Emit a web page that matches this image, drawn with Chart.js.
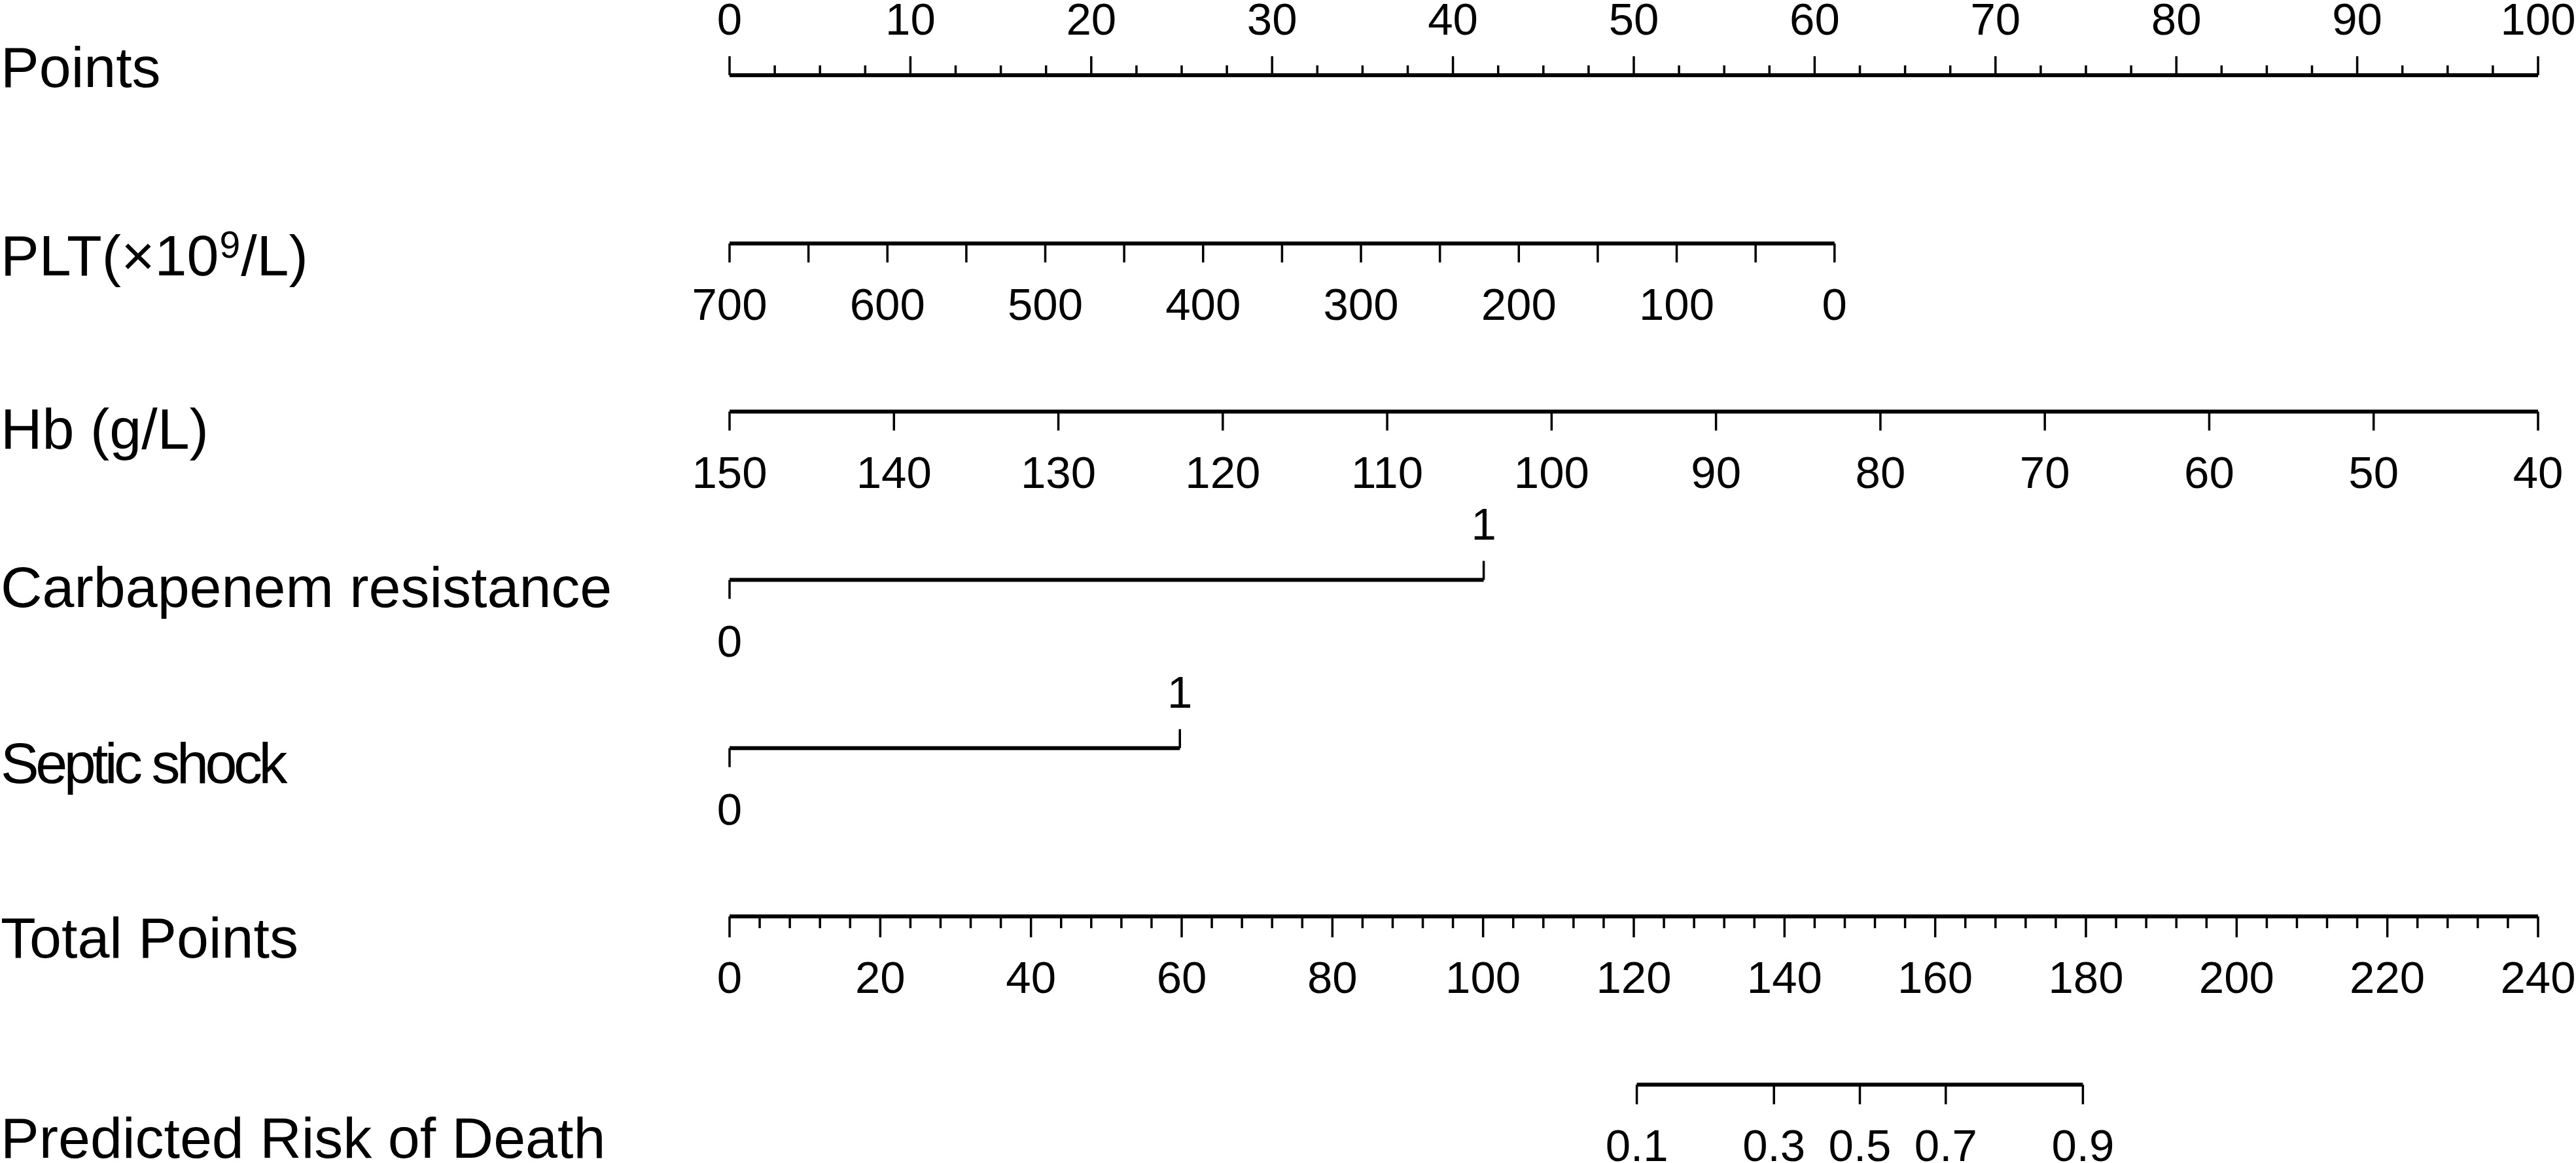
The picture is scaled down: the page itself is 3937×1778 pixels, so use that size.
<!DOCTYPE html>
<html>
<head>
<meta charset="utf-8">
<title>Nomogram</title>
<script src="https://cdn.jsdelivr.net/npm/chart.js@4.4.0/dist/chart.umd.min.js"></script>
<style>
  html, body { margin: 0; padding: 0; background: #fff; }
  #nomogram { display: block; }
</style>
</head>
<body>
<canvas id="nomogram" width="3937" height="1778"></canvas>
<script>
// values
const rowNames = ["Points", "PLT(×10⁹/L)", "Hb (g/L)", "Carbapenem resistance",
  "Septic shock", "Total Points", "Predicted Risk of Death"];

const pointLabels = [0, 10, 20, 30, 40, 50, 60, 70, 80, 90, 100];
const pointMinorStep = 2.5;

const pltLabels = [700, 600, 500, 400, 300, 200, 100, 0];
const pltTickStep = 50;
const pltEnds = [700, 0];
const pltEndPoints = [0, 61.1];

const hbLabels = [150, 140, 130, 120, 110, 100, 90, 80, 70, 60, 50, 40];
const hbEnds = [150, 40];
const hbEndPoints = [0, 100];

const carbLevels = ["0", "1"];
const carbPoints = [0, 41.7];

const shockLevels = ["0", "1"];
const shockPoints = [0, 24.9];

const totalLabels = [0, 20, 40, 60, 80, 100, 120, 140, 160, 180, 200, 220, 240];
const totalMinorStep = 4;

const riskLabels = ["0.1", "0.3", "0.5", "0.7", "0.9"];
const riskTotals = [120.4, 138.6, 150.0, 161.4, 179.6];
const riskMinorTotals = [131.3, 144.5, 155.5, 168.7];

// layout (pixels)
const W = 3937, H = 1778;
const yMin = -0.447, yMax = 6.466;
const rowPx = H / (yMax - yMin);
const nameBaseline = [18, 49, 57, 41, 53, 63, 112];
const nameSpacing = [0, 0, 0, 0, -5.5, 0, 0];
const labelBelow = 117, labelAbove = -62;
const majorLen = 29, minorLen = 15, tinyLen = 2;
const labelFont = '88px "Liberation Sans", Arial, sans-serif';
const supFont = '57px "Liberation Sans", Arial, sans-serif';
const tickFont = '69px "Liberation Sans", Arial, sans-serif';

function lin(v, ends, pts) {
  return pts[0] + (v - ends[0]) * (pts[1] - pts[0]) / (ends[1] - ends[0]);
}
const totalMax = totalLabels[totalLabels.length - 1];
function totalToPoints(t) { return t * 100 / totalMax; }

// each row: line extent, ticks (points, length px, +1 down / -1 up), labels
const rows = [];

// Points
(function () {
  const ticks = [];
  for (let v = 0; v <= 100 + 1e-9; v += pointMinorStep) {
    const major = Math.abs(v % 10) < 1e-9;
    ticks.push({ p: v, len: major ? majorLen : minorLen, dir: -1 });
  }
  rows.push({ from: 0, to: 100, ticks,
    labels: pointLabels.map(v => ({ p: v, text: String(v), above: true })) });
})();

// PLT
(function () {
  const ticks = [];
  for (let v = pltEnds[0]; v >= pltEnds[1]; v -= pltTickStep) {
    ticks.push({ p: lin(v, pltEnds, pltEndPoints), len: majorLen, dir: 1 });
  }
  rows.push({ from: pltEndPoints[0], to: pltEndPoints[1], ticks,
    labels: pltLabels.map(v => ({ p: lin(v, pltEnds, pltEndPoints), text: String(v), above: false })) });
})();

// Hb
rows.push({ from: hbEndPoints[0], to: hbEndPoints[1],
  ticks: hbLabels.map(v => ({ p: lin(v, hbEnds, hbEndPoints), len: majorLen, dir: 1 })),
  labels: hbLabels.map(v => ({ p: lin(v, hbEnds, hbEndPoints), text: String(v), above: false })) });

// Carbapenem resistance, Septic shock
[[carbLevels, carbPoints], [shockLevels, shockPoints]].forEach(([lev, pts]) => {
  rows.push({ from: pts[0], to: pts[1],
    ticks: [{ p: pts[0], len: majorLen, dir: 1 }, { p: pts[1], len: majorLen, dir: -1 }],
    labels: [{ p: pts[0], text: lev[0], above: false }, { p: pts[1], text: lev[1], above: true }] });
});

// Total Points
(function () {
  const ticks = [];
  for (let t = 0; t <= totalMax; t += totalMinorStep) {
    const major = t % 20 === 0;
    ticks.push({ p: totalToPoints(t), len: major ? majorLen + 3 : minorLen + 3, dir: 1 });
  }
  rows.push({ from: 0, to: 100, ticks,
    labels: totalLabels.map(t => ({ p: totalToPoints(t), text: String(t), above: false })) });
})();

// Predicted risk
(function () {
  const ticks = riskTotals.map(t => ({ p: totalToPoints(t), len: majorLen + 1, dir: 1 }))
    .concat(riskMinorTotals.map(t => ({ p: totalToPoints(t), len: tinyLen, dir: 1 })));
  rows.push({ from: totalToPoints(riskTotals[0]), to: totalToPoints(riskTotals[riskTotals.length - 1]), ticks,
    labels: riskLabels.map((s, i) => ({ p: totalToPoints(riskTotals[i]), text: s, above: false })) });
})();

// datasets: one for each axis line, one for each set of tick marks
const datasets = [];
rows.forEach((r, i) => {
  datasets.push({
    data: [{ x: r.from, y: i }, { x: r.to, y: i }],
    borderColor: '#000', borderWidth: 6, borderCapStyle: 'butt',
    pointRadius: 0, fill: false, clip: false
  });
  const tickData = [];
  r.ticks.forEach(t => {
    tickData.push({ x: t.p, y: i });
    tickData.push({ x: t.p, y: i + t.dir * t.len / rowPx });
    tickData.push({ x: t.p, y: null });
  });
  datasets.push({
    data: tickData,
    borderColor: '#000', borderWidth: 3.5, borderCapStyle: 'butt',
    pointRadius: 0, fill: false, clip: false, spanGaps: false
  });
});

const textPlugin = {
  id: 'nomoText',
  afterDatasetsDraw(chart) {
    const c = chart.ctx, xs = chart.scales.x, ys = chart.scales.y;
    c.save();
    c.fillStyle = '#000';
    c.textBaseline = 'alphabetic';

    // variable names on the left
    c.textAlign = 'left';
    rowNames.forEach((name, i) => {
      const y = ys.getPixelForValue(i) + nameBaseline[i];
      c.font = labelFont;
      c.letterSpacing = nameSpacing[i] + 'px';
      const parts = name.split('⁹');
      let x = 1;
      c.fillText(parts[0], x, y);
      if (parts.length > 1) {
        x += c.measureText(parts[0]).width;
        c.font = supFont;
        c.fillText('9', x + 1, y - 27);
        x += c.measureText('9').width + 2;
        c.font = labelFont;
        c.fillText(parts[1], x, y);
      }
      c.letterSpacing = '0px';
    });

    // tick labels
    c.font = tickFont;
    c.textAlign = 'center';
    rows.forEach((r, i) => {
      const y0 = ys.getPixelForValue(i);
      r.labels.forEach(l => {
        c.fillText(l.text, xs.getPixelForValue(l.p), y0 + (l.above ? labelAbove : labelBelow));
      });
    });
    c.restore();
  }
};

new Chart(document.getElementById('nomogram').getContext('2d'), {
  type: 'line',
  data: { datasets },
  options: {
    responsive: false,
    animation: false,
    devicePixelRatio: 1,
    events: [],
    layout: { padding: { left: 1115, right: W - 3879, top: 0, bottom: 0 } },
    scales: {
      x: { type: 'linear', min: 0, max: 100, display: false },
      y: { type: 'linear', min: yMin, max: yMax, reverse: true, display: false }
    },
    plugins: { legend: { display: false }, tooltip: { enabled: false } },
    elements: { point: { radius: 0 }, line: { tension: 0 } }
  },
  plugins: [textPlugin]
});
</script>
</body>
</html>
